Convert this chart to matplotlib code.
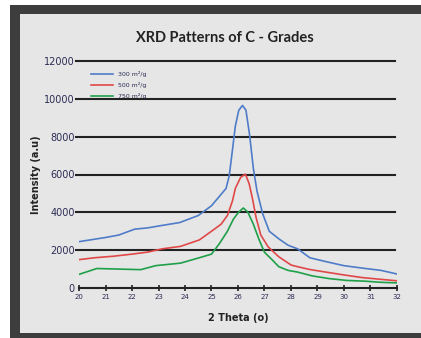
import numpy as np
import matplotlib.pyplot as plt
from matplotlib.patches import Rectangle

# values
theta_300 = [20.0, 20.5, 21.0, 21.5, 22.1, 22.6, 23.1, 23.8, 24.5, 25.0, 25.25,
             25.55, 25.67, 25.79, 25.9, 26.03, 26.17, 26.3, 26.44, 26.58, 26.72,
             26.93, 27.18, 27.54, 27.89, 28.25, 28.71, 29.3, 30.0, 30.7, 31.4, 32.0]
int_300 = [2450, 2560, 2670, 2800, 3110, 3180, 3300, 3460, 3830, 4350, 4765,
           5265, 5935, 7294, 8565, 9400, 9650, 9400, 8065, 6312, 5100,
           3930, 3000, 2600, 2260, 2070, 1600, 1400, 1180, 1050, 930, 740]

theta_500 = [20.0, 20.6, 21.3, 22.0, 22.6, 23.14, 23.83, 24.54, 25.0, 25.36, 25.6,
             25.79, 25.9, 26.1, 26.28, 26.42, 26.54, 26.68, 26.86, 27.14, 27.54,
             28.0, 28.25, 28.7, 29.32, 30.0, 30.67, 31.3, 32.0]
int_500 = [1500, 1600, 1680, 1790, 1900, 2070, 2200, 2540, 3000, 3370, 3833,
           4600, 5265, 5850, 6020, 5515, 4765, 3740, 2800, 2170, 1650,
           1217, 1126, 980, 840, 690, 554, 470, 380]

theta_750 = [20.0, 20.67, 21.5, 22.33, 22.9, 23.83, 24.54, 25.0, 25.3, 25.6, 25.83,
             26.03, 26.2, 26.37, 26.58, 26.8, 27.0, 27.28, 27.54, 27.89, 28.25,
             28.8, 29.44, 30.1, 30.8, 31.4, 32.0]
int_750 = [720, 1030, 1000, 970, 1183, 1314, 1600, 1790, 2350, 3000, 3650,
           4015, 4230, 4015, 3370, 2540, 1886, 1503, 1126, 931, 840,
           640, 497, 400, 360, 300, 270]

series_labels = ['300 m²/g', '500 m²/g', '750 m²/g']
series_colors = ['#4f7cc8', '#e04848', '#1fa048']
x_ticks = list(range(20, 33))
y_ticks = [0, 2000, 4000, 6000, 8000, 10000, 12000]

W, H = 421, 338
fig = plt.figure(figsize=(W / 100, H / 100), dpi=100)
fig.patch.set_facecolor('white')

# dark frame + light panel
fig.add_artist(Rectangle((10 / W, 0), 1, (H - 5) / H, transform=fig.transFigure,
                         facecolor='#3d3d3d', edgecolor='none', zorder=0))
fig.add_artist(Rectangle((20 / W, 5 / H), 1, (H - 19) / H, transform=fig.transFigure,
                         facecolor='#e6e6e6', edgecolor='none', zorder=0))

ax = fig.add_axes([79 / W, (H - 288) / H, (397 - 79) / W, (288 - 61) / H])
ax.set_facecolor('none')
ax.set_xlim(20, 32)
ax.set_ylim(0, 12000)

for yv in y_ticks[1:]:
    ax.axhline(yv, xmin=-0.01, xmax=0.994, color='#222222', lw=1.5,
               clip_on=False, zorder=1)

for th, iv, lab, c in zip([theta_300, theta_500, theta_750],
                          [int_300, int_500, int_750], series_labels, series_colors):
    ax.plot(th, iv, color=c, lw=1.2, label=lab, zorder=3)

for s in ['top', 'right', 'left']:
    ax.spines[s].set_visible(False)
ax.spines['bottom'].set_color('#222222')
ax.spines['bottom'].set_linewidth(1.5)

ax.set_xticks(x_ticks)
ax.set_xticklabels([str(v) for v in x_ticks])
ax.tick_params(axis='x', direction='inout', length=5, width=1.2, color='#222222',
               labelsize=5, labelcolor='#2b2b55', pad=2)
ax.set_yticks(y_ticks)
ax.set_yticklabels([str(v) for v in y_ticks])
ax.tick_params(axis='y', length=0, labelsize=7, labelcolor='#2b2b55', pad=3)

ax.set_xlabel('2 Theta (o)', fontsize=7, fontweight='bold', color='#222222', labelpad=9)
ax.set_ylabel('Intensity (a.u)', fontsize=7, fontweight='bold', color='#222222', labelpad=2)

fig.text(225 / W, 1 - 38 / H, 'XRD Patterns of C - Grades', ha='center', va='center',
         fontsize=10.5, fontweight='bold', color='#222222', family=['Lato', 'DejaVu Sans'])

leg = ax.legend(loc='upper left', bbox_to_anchor=(0.03, 0.965), frameon=False,
                fontsize=4.5, handlelength=3.5, handletextpad=0.8, labelspacing=0.75,
                borderaxespad=0)
for t in leg.get_texts():
    t.set_color('#2b2b55')

fig.savefig('out.png', dpi=100)
